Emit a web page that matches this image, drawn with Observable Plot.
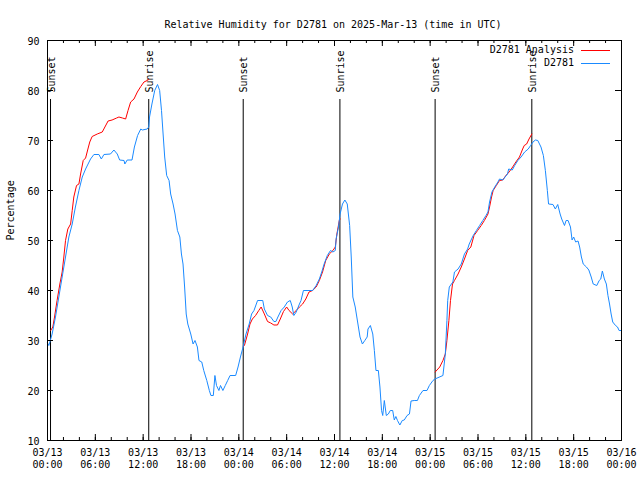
<!DOCTYPE html>
<html>
<head>
<meta charset="utf-8">
<script src="https://cdn.jsdelivr.net/npm/d3@7"></script>
<script src="https://cdn.jsdelivr.net/npm/@observablehq/plot@0.6"></script>
<style>
  html, body { margin: 0; padding: 0; background: white; }
  #wrap { position: relative; width: 640px; height: 480px; }
  #legend { position: absolute; left: 0; top: 0; pointer-events: none; }
</style>
</head>
<body>
<div id="wrap"></div>
<script>
const titleText = "Relative Humidity for D2781 on 2025-Mar-13 (time in UTC)";
const yLabel = "Percentage";
const seriesNames = ["D2781 Analysis", "D2781"];
const seriesColors = ["#ff0000", "#1a8aff"];

// x in hours since 2025-03-13 00:00 UTC
const xMajorTicks = [0, 6, 12, 18, 24, 30, 36, 42, 48, 54, 60, 66, 72];
const xTickDates = ["03/13","03/13","03/13","03/13","03/14","03/14","03/14","03/14","03/15","03/15","03/15","03/15","03/16"];
const xTickTimes = ["00:00","06:00","12:00","18:00","00:00","06:00","12:00","18:00","00:00","06:00","12:00","18:00","00:00"];
const xMinorTicks = d3.range(0, 73, 2);
const yTicks = [10, 20, 30, 40, 50, 60, 70, 80, 90];

const eventHours = [0.38, 12.70, 24.55, 36.68, 48.62, 60.75];
const eventNames = ["Sunset", "Sunrise", "Sunset", "Sunrise", "Sunset", "Sunrise"];

const obsHours = [0.0,0.17,0.58,1.0,1.42,1.84,2.26,2.68,3.1,3.5,3.94,4.36,4.78,5.4,5.82,6.45,6.75,7.08,7.9,8.33,8.75,9.05,9.6,9.7,10.0,10.6,10.9,11.3,11.7,11.9,12.5,12.7,12.8,13.1,13.45,13.8,14.07,14.3,14.5,14.7,14.95,15.25,15.45,15.75,16.0,16.3,16.6,16.8,17.0,17.2,17.4,17.6,17.97,18.26,18.5,18.8,19.0,19.35,19.6,19.98,20.3,20.5,20.8,21.0,21.2,21.5,21.7,22.0,22.3,22.6,22.9,23.6,23.9,24.2,24.5,24.9,25.3,25.6,25.9,26.35,27.0,27.2,27.6,28.0,28.4,28.65,28.9,29.3,29.7,30.1,30.45,30.7,30.9,31.2,31.6,31.8,32.1,33.25,33.7,34.1,34.4,34.7,35.1,35.5,35.8,36.1,36.2,36.5,36.7,37.0,37.3,37.6,37.9,38.1,38.3,38.6,38.8,39.0,39.2,39.5,39.8,40.1,40.2,40.5,40.8,41.0,41.2,41.5,41.7,41.9,42.05,42.25,42.5,42.75,43.0,43.3,43.5,43.7,43.9,44.2,44.5,44.75,45.1,45.4,45.6,46.0,46.4,46.65,47.1,47.6,47.9,48.35,48.6,49.6,49.9,50.1,50.2,50.4,50.85,51.05,51.5,51.9,52.1,52.3,52.7,52.9,53.4,53.8,54.2,54.6,55.0,55.25,55.45,55.75,56.1,56.5,56.7,57.1,57.4,57.7,57.85,58.3,58.6,59.0,59.4,59.85,60.3,60.6,60.9,61.2,61.5,61.9,62.2,62.45,62.7,62.85,63.4,63.7,64.0,64.3,64.5,64.85,65.05,65.3,65.6,65.8,66.0,66.25,66.55,66.75,66.97,67.2,67.6,67.9,68.2,68.45,68.9,69.2,69.4,69.6,69.85,70.1,70.3,70.5,70.7,70.9,71.25,71.5,71.7,72.0];
const obsValues = [29.5,29,31.3,34.7,38.7,42.7,46.7,50.7,53.3,56.7,60,62.7,64.3,66.3,67.2,67.2,66.3,67.2,67.3,68.1,67.3,66.1,66,65.3,66.1,66.1,68.7,71,72.3,72.1,72.3,72.7,74.7,77.3,80,81.2,80,76,71.3,66.7,63,62,59.3,57.3,55.3,52,50.7,47.3,45.3,40.7,35.3,33.3,31.3,29.3,30,28.7,26,25.7,24,22,20,19,19,23,21,20,21,20,21,22,23,23,24.7,26.7,28.5,31.3,33.3,35.3,36,38,38,36.3,35,34.7,33.8,33.8,34.7,36,36.7,37.7,38,36.7,35,35.7,37.3,38,40,40,41,42.3,43.7,45.3,47,48,47.7,48,50.3,52.7,55.3,57.3,58.1,57.3,53,46.7,38.7,36.7,34.7,32.7,30.7,29.3,30,30.7,32.3,33,31.3,28,24,24,20.7,16,15,18,15,15.3,16,16,14.1,14.8,14,13.1,14,14.1,15,15.3,17.9,18,18,19,20,20,21,22,22.3,23,27.3,34,38,40.7,41.7,43.7,44.3,45.3,46.3,47.3,48.3,49.3,51,52,53,54,55,55.7,57.7,59.7,60.7,61.7,62.3,62.1,62.7,63.3,64.3,64.1,65,66,66.7,67.7,68.3,69,69.7,70.1,70,68.7,67,64,60,57.3,57.2,56.3,57.2,55.3,54.3,53,54,54,52.7,50.1,50.7,49.7,49.9,48.7,46.7,45.3,44.7,44.1,42.7,41.3,41,42,42.3,43.9,42.3,41.3,39,37.3,35.3,33.7,33,32.7,32,32];

// analysis: three night-time segments, null marks a gap
const anaHours = [0.4,0.67,0.88,1.2,1.55,1.84,2.05,2.26,2.55,2.9,3.1,3.3,3.64,3.94,4.15,4.48,4.78,5.07,5.3,5.6,6.24,6.87,7.2,7.6,8.1,8.67,8.96,9.4,9.8,10.1,10.43,10.85,11.27,11.7,12.1,12.5,12.7,
  18,
  24.55,24.7,25.1,25.4,25.7,26.1,26.5,26.8,27.2,27.6,28.0,28.4,28.85,29.2,29.6,30.0,30.3,30.75,31.2,31.6,32.0,32.4,32.8,33.25,33.7,34.1,34.5,34.9,35.35,35.8,36.1,36.3,36.6,36.7,
  42,
  48.63,49.2,49.6,49.9,50.1,50.35,50.55,50.8,51.05,51.5,51.9,52.3,52.7,53.1,53.5,53.95,54.4,54.8,55.25,55.45,55.7,55.9,56.3,56.7,57.1,57.5,57.9,58.35,58.75,59.2,59.6,59.8,60.1,60.4,60.75];
const anaValues = [32,32.7,34.7,38,41.3,43.7,46.7,50,52.3,53.3,56,58.7,61,61.3,63.3,66,66.5,68.3,69.7,70.8,71.3,71.7,72.7,73.9,74.1,74.5,74.7,74.5,74.3,76,77.7,78.3,79.7,80.8,81.7,82,82.2,
  null,
  28.8,29,31.3,33.3,34.3,35,36,36.7,35.3,33.8,33.5,33.1,33.1,34.3,35.8,36.7,36,35.3,36,36.7,37.3,38.3,39.7,40,40.7,42,43.7,46,47.3,48,48.7,51.3,54,54.3,
  null,
  23.7,24.7,26,27.3,30,34,38,41.3,42,43.3,44.7,46.3,48,48.7,51,52,53,54,55.3,56.7,58.7,60,61,62,62.1,63,63.7,64.7,65.7,66.7,68.3,69,69.3,70.3,71.3];

const W = 640, H = 480;
const mT = 40, mR = 19, mB = 40, mL = 47;
const pw = W - mL - mR, ph = H - mT - mB;
const font = "DejaVu Sans Mono";

const chart = Plot.plot({
  width: W, height: H,
  marginTop: mT, marginRight: mR, marginBottom: mB, marginLeft: mL,
  style: { fontFamily: font, fontSize: "10px", background: "white", color: "black" },
  x: { domain: [0, 72], axis: null },
  y: { domain: [10, 90], axis: null },
  marks: [
    // event lines
    Plot.ruleX(eventHours, { x: d => d, insetTop: 59, stroke: "black", strokeWidth: 1 }),
    Plot.text(eventHours, { x: d => d, text: (d, i) => eventNames[i], frameAnchor: "top", dy: 52, dx: -3,
      rotate: -90, textAnchor: "start", fontSize: 10, fill: "black" }),
    // data
    Plot.line(anaHours, { x: d => d, y: (d, i) => anaValues[i], stroke: seriesColors[0], strokeWidth: 1 }),
    Plot.line(obsHours, { x: d => d, y: (d, i) => obsValues[i], stroke: seriesColors[1], strokeWidth: 1 }),
    // ticks (inward, mirrored)
    Plot.tickX(xMinorTicks, { x: d => d, insetTop: ph - 3, stroke: "black" }),
    Plot.tickX(xMinorTicks, { x: d => d, insetBottom: ph - 3, stroke: "black" }),
    Plot.tickX(xMajorTicks, { x: d => d, insetTop: ph - 6, stroke: "black" }),
    Plot.tickX(xMajorTicks, { x: d => d, insetBottom: ph - 6, stroke: "black" }),
    Plot.tickY(yTicks, { y: d => d, insetRight: pw - 6, stroke: "black" }),
    Plot.tickY(yTicks, { y: d => d, insetLeft: pw - 6, stroke: "black" }),
    Plot.frame({ stroke: "black", strokeWidth: 1 }),
    // axis labels
    Plot.axisY({ ticks: yTicks, tickSize: 0, tickPadding: 8, label: null, fontSize: 10, dy: 1 }),
    Plot.text(xMajorTicks, { x: d => d, text: (d, i) => xTickDates[i], frameAnchor: "bottom",
      dy: 15, fontSize: 10, fill: "black" }),
    Plot.text(xMajorTicks, { x: d => d, text: (d, i) => xTickTimes[i], frameAnchor: "bottom",
      dy: 27.5, fontSize: 10, fill: "black" }),
    Plot.text([titleText], { text: d => d, frameAnchor: "top", dy: -20, dx: -1.5, fontSize: 10, fill: "black" }),
    Plot.text([yLabel], { text: d => d, frameAnchor: "left", dx: -37, rotate: -90, fontSize: 10, fill: "black" })
  ]
});

const wrap = document.getElementById("wrap");
wrap.appendChild(chart);

// legend (top-right inside the plot area)
const leg = d3.select(wrap).append("svg").attr("id", "legend")
  .attr("width", W).attr("height", H)
  .style("font-family", font).style("font-size", "10px");
const legRight = W - mR - 47;
seriesNames.forEach((name, i) => {
  const y = mT + 10 + i * 13;
  leg.append("text").attr("x", legRight).attr("y", y).attr("dy", "0.32em")
    .attr("text-anchor", "end").attr("fill", "black").text(name);
  leg.append("line").attr("x1", legRight + 7).attr("x2", legRight + 36)
    .attr("y1", y + 0.5).attr("y2", y + 0.5).attr("stroke", seriesColors[i]).attr("stroke-width", 1);
});
</script>
</body>
</html>
